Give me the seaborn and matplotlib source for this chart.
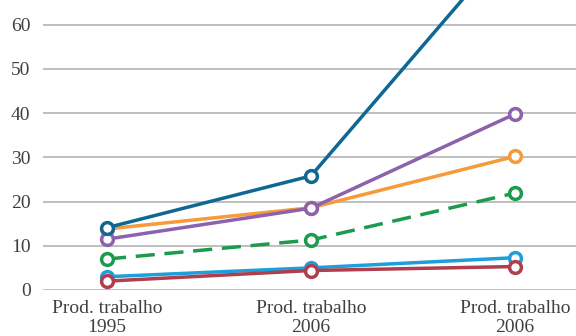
import matplotlib
matplotlib.use("Agg")
from matplotlib import pyplot as plt
import numpy as np
import pandas as pd
import seaborn as sns

categories = ["Prod. trabalho\n1995", "Prod. trabalho\n2006", "Prod. trabalho\n2006"]

# series values (drawing order: bottom first)
orange = [13.8, 18.6, 30.2]
light_blue = [3.0, 5.0, 7.3]
red = [2.0, 4.4, 5.3]
purple = [11.5, 18.5, 39.8]
dark_blue = [14.1, 25.8, 79.5]
green = [7.0, 11.3, 21.9]

series = [
    ("orange", orange, "#f79a3a", False),
    ("light_blue", light_blue, "#1ba0dc", False),
    ("red", red, "#b03f4e", False),
    ("purple", purple, "#8c62ad", False),
    ("dark_blue", dark_blue, "#0f6893", False),
    ("green", green, "#1c9a4e", True),
]

sns.set_style("white")
plt.rcParams['font.family'] = ['Liberation Serif', 'DejaVu Serif']

fig = plt.figure(figsize=(5.76, 3.36), dpi=100)
ax = fig.add_axes([0.0747, 0.137, 0.9253, 0.863])

x_pos = np.arange(len(categories))
for name, vals, color, dashed in series:
    df = pd.DataFrame({"x": x_pos, "y": vals})
    sns.lineplot(data=df, x="x", y="y", ax=ax, color=color, linewidth=2.5,
                 marker="o", markersize=8.5, markerfacecolor="white",
                 markeredgecolor=color, markeredgewidth=2.5,
                 linestyle=(0, (5.5, 2.8)) if dashed else "-",
                 zorder=3)

ax.set_xlim(-0.314, 2.3)
ax.set_ylim(0, 65.6)
ax.set_yticks(range(0, 61, 10))
ax.set_xticks(x_pos)
ax.set_xticklabels(categories, linespacing=1.2)
ax.yaxis.grid(True, color="#bfbfbf", linewidth=1.4, zorder=0)
ax.xaxis.grid(False)
for s in ax.spines.values():
    s.set_visible(False)
ax.tick_params(axis="both", length=0, labelsize=14, labelcolor="#404040")
ax.tick_params(axis="y", pad=9)
ax.tick_params(axis="x", pad=7)
ax.set_xlabel("")
ax.set_ylabel("")

fig.savefig("out.png", dpi=100)
